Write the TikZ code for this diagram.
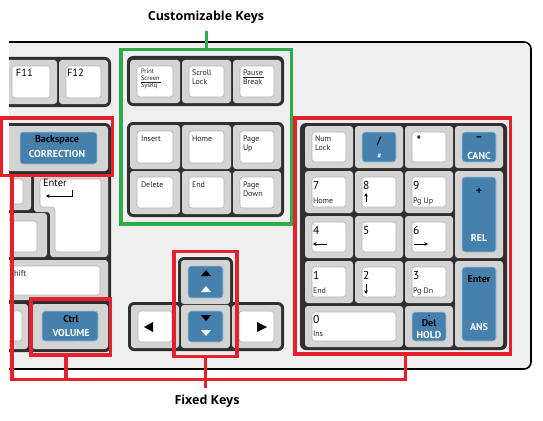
\documentclass[tikz,border=0pt]{standalone}
\usepackage{fontspec}
\setmainfont{PT Sans}
\newfontfamily\ttlfont{Open Sans}
\usetikzlibrary{arrows.meta}
\definecolor{bodyc}{HTML}{EFEFEF}
\definecolor{darkk}{HTML}{2F2F2F}
\definecolor{cellc}{HTML}{D4D4D4}
\definecolor{capline}{HTML}{B4B4B4}
\definecolor{keyblue}{HTML}{4581AC}
\definecolor{redc}{HTML}{E3202B}
\definecolor{greenc}{HTML}{2EAA4B}
\newcommand\kk[5]{\fill[keycell] (#1,#2) rectangle (#3,#4); \draw[#5] (#1+7,#2+6) rectangle (#3-7,#4-6);}
\begin{document}
\begin{tikzpicture}[x=1pt,y=-1pt, every node/.style={inner sep=0pt,outer sep=0pt},
 keycell/.style={fill=cellc, rounded corners=3pt},
 wcap/.style={fill=white, draw=capline, line width=0.6pt, rounded corners=3pt},
 bcap/.style={fill=keyblue, draw=keyblue!50!white, line width=0.7pt, rounded corners=3pt},
 cluster/.style={fill=darkk, rounded corners=6pt},
 lab/.style={anchor=north west, align=left, font=\fontsize{8}{9}\selectfont, text=black!85},
 tinylab/.style={anchor=north west, align=left, font=\fontsize{6.5}{6.8}\selectfont, text=black!85},
 fkey/.style={anchor=north west, font=\fontsize{10.5}{10.5}\selectfont},
 digit/.style={anchor=north west, font=\fontsize{11.5}{11.5}\selectfont},
 bk/.style={font=\bfseries\fontsize{10}{10}\selectfont, text=black},
 wk/.style={font=\bfseries\fontsize{10}{10}\selectfont, text=white},
 redbox/.style={draw=redc, line width=3.8pt},
 greenbox/.style={draw=greenc, line width=3.5pt},
 redline/.style={draw=redc, line width=3.8pt},
 greenline/.style={draw=greenc, line width=3.5pt},
 title/.style={font=\ttlfont\bfseries\fontsize{12.5}{12.5}\selectfont},
 arr/.style={-{Stealth[length=3.5pt,width=3.5pt]}, line width=0.8pt}]

\useasboundingbox (0,0) rectangle (543,420);
\fill[white] (0,0) rectangle (543,420);

\begin{scope}
\clip (9,0) rectangle (543,420);
% keyboard body
\draw[fill=bodyc, line width=1.6pt, rounded corners=7pt] (-20,42) rectangle (531,369);

% F11 / F12
\fill[cluster] (-10,57) rectangle (111,107);
\kk{5}{60}{57}{104}{wcap}
\kk{59}{60}{108}{104}{wcap}
\node[fkey] (f11) at (16,69) {F11};
\node[fkey] (f12) at (67,69) {F12};

% Print Screen cluster
\fill[cluster] (127,56) rectangle (284,106);
\kk{130}{60}{180}{103}{wcap}
\kk{182}{60}{231}{103}{wcap}
\kk{233}{60}{281}{103}{wcap}
\node[tinylab] (prt) at (141,69) {Print\\\underline{Screen\,}\\SysRq};
\node[lab] (scr) at (192,70) {Scroll\\Lock};
\node[lab] (pau) at (243,70) {\underline{Pause\,}\\Break};

% Insert cluster
\fill[cluster] (127,122) rectangle (284,217);
\kk{130}{125}{180}{169}{wcap}
\kk{182}{125}{231}{169}{wcap}
\kk{233}{125}{281}{169}{wcap}
\kk{130}{171}{180}{214}{wcap}
\kk{182}{171}{231}{214}{wcap}
\kk{233}{171}{281}{214}{wcap}
\node[lab] (ins) at (141,136) {Insert};
\node[lab] (hom) at (192,136) {Home};
\node[lab] (pgu) at (243,136) {Page\\Up};
\node[lab] (del) at (141,182) {Delete};
\node[lab] (end) at (192,182) {End};
\node[lab] (pgd) at (243,182) {Page\\Down};

% left cluster
\fill[cluster] (-10,123) rectangle (111,352);
\fill[keycell] (-5,126) rectangle (108,171);
\draw[bcap] (20,132) rectangle (97,164);
\node[bk] (bsp) at (57,140) {Backspace};
\node[wk] (cor) at (57,154) {CORRECTION};
\fill[keycell] (-5,174) rectangle (31,210);
\draw[wcap] (-5,179) rectangle (23,204);
\fill[keycell] (34,174) -- (108,174) -- (108,257) -- (50,257) -- (50,212) -- (34,212) -- cycle;
\draw[wcap] (40,179) -- (101,179) -- (101,252) -- (55,252) -- (55,207) -- (40,207) -- cycle;
\node[fkey] (ent) at (43,179) {Enter};
\draw[arr] (72,190) -- (72,196) -- (46,196);
\fill[keycell] (-5,213) rectangle (47,257);
\draw[wcap] (-5,221) rectangle (37,252);
\fill[keycell] (-5,260) rectangle (108,300);
\draw[wcap] (-5,266) rectangle (100,295);
\node[lab, font=\fontsize{8.5}{9}\selectfont] (shf) at (14,270) {hift};
\fill[keycell] (-5,304) rectangle (28,349);
\draw[wcap] (-5,311) rectangle (22,341);
\fill[keycell] (32,304) rectangle (108,349);
\draw[bcap] (42,311) rectangle (98,341);
\node[bk] (ctl) at (71,319) {Ctrl};
\node[wk] (vol) at (71,333) {VOLUME};

% arrow keys
\fill[cluster] (178,257) rectangle (233,306);
\fill[cluster] (128,302) rectangle (284,351);
\kk{181}{260}{230}{304}{bcap}
\kk{131}{305}{179}{348}{wcap}
\kk{181}{305}{230}{348}{bcap}
\kk{232}{305}{281}{348}{wcap}
\fill[black] (201,276) -- (211,276) -- (206,270) -- cycle;
\fill[white] (201,292) -- (211,292) -- (206,286) -- cycle;
\fill[black] (201,315) -- (211,315) -- (206,321) -- cycle;
\fill[white] (201,330) -- (211,330) -- (206,336) -- cycle;
\fill[black] (144,327) -- (153,322) -- (153,332) -- cycle;
\fill[black] (267,327) -- (257,322) -- (257,332) -- cycle;

% numeric keypad
\fill[cluster] (300,123) rectangle (507,350);
\kk{305}{126}{353}{168}{wcap}
\kk{355}{126}{403}{168}{bcap}
\kk{405}{126}{453}{168}{wcap}
\kk{455}{126}{503}{168}{bcap}
\kk{305}{171}{353}{213}{wcap}
\kk{355}{171}{403}{213}{wcap}
\kk{405}{171}{453}{213}{wcap}
\kk{455}{171}{503}{258}{bcap}
\kk{305}{216}{353}{258}{wcap}
\kk{355}{216}{403}{258}{wcap}
\kk{405}{216}{453}{258}{wcap}
\kk{305}{261}{353}{303}{wcap}
\kk{355}{261}{403}{303}{wcap}
\kk{405}{261}{453}{303}{wcap}
\kk{455}{261}{503}{347}{bcap}
\kk{305}{306}{403}{347}{wcap}
\kk{405}{306}{453}{347}{bcap}

\node[lab] (nml) at (315,136) {Num\\Lock};
\node[bk, font=\bfseries\fontsize{11}{11}\selectfont] (sla) at (379,141) {/};
\node[wk, font=\bfseries\itshape\fontsize{7}{7}\selectfont] (hsh) at (379,156) {\#};
\node[bk, font=\bfseries\fontsize{12}{12}\selectfont] (ast) at (419,140) {*};
\node[bk, font=\bfseries\fontsize{11}{11}\selectfont] (mns) at (479,139) {--};
\node[wk] (cnc) at (479,156) {CANC};
\node[digit] (d7) at (313,181) {7};
\node[lab] (hm7) at (313,198) {Home};
\node[digit] (d8) at (363,181) {8};
\draw[arr] (366,202) -- (366,193);
\node[digit] (d9) at (413,181) {9};
\node[lab] (pu9) at (413,198) {Pg Up};
\node[bk, font=\bfseries\fontsize{11}{11}\selectfont] (pls) at (479,191) {+};
\node[wk] (rel) at (479,238) {REL};
\node[digit] (d4) at (313,226) {4};
\draw[arr] (327,244) -- (313,244);
\node[digit] (d5) at (363,226) {5};
\node[digit] (d6) at (413,226) {6};
\draw[arr] (414,244) -- (428,244);
\node[digit] (d1) at (313,271) {1};
\node[lab] (en1) at (313,288) {End};
\node[digit] (d2) at (363,271) {2};
\draw[arr] (366,284) -- (366,294);
\node[digit] (d3) at (413,271) {3};
\node[lab] (pd3) at (413,288) {Pg Dn};
\node[bk] (etr) at (479,279) {Enter};
\node[wk] (ans) at (479,327) {ANS};
\node[digit] (d0) at (313,315) {0};
\node[lab] (in0) at (313,331) {Ins};
\fill[black] (429,315.5) circle (1);
\node[bk] (dl) at (429,323) {Del};
\node[wk] (hld) at (429,335) {HOLD};
\end{scope}

% titles
\node[title] (cust) at (206,17) {Customizable Keys};
\node[title] (fixed) at (207,401) {Fixed Keys};
\coordinate (gtop) at (205,31);
\coordinate (ftop) at (207,388);

% highlight boxes
\node[greenbox, minimum width=170.5pt, minimum height=174.5pt] (gb) at (206.25,136.75) {};
\node[redbox, minimum width=111pt, minimum height=57.5pt] (bs) at (57,146.75) {};
\node[redbox, minimum width=79.5pt, minimum height=56pt] (ctrl) at (70.75,327) {};
\node[redbox, minimum width=63pt, minimum height=105pt] (ar) at (205.5,304) {};
\node[redbox, minimum width=215.5pt, minimum height=236pt] (np) at (402.75,236) {};

% connectors
\coordinate (jl) at (12,379.5);
\coordinate (jr) at (405.5,379.5);
\coordinate (jc) at (66,379.5);
\draw[greenline] (gb.north) -- (gb.north |- gtop);
\draw[redline] (jl |- bs.south) -- (jl) -- (jr) -- (jr |- np.south);
\draw[redline] (jc |- ctrl.south) -- (jc);
\draw[redline] (ar.south) -- (ar.south |- ftop);
\end{tikzpicture}
\end{document}
